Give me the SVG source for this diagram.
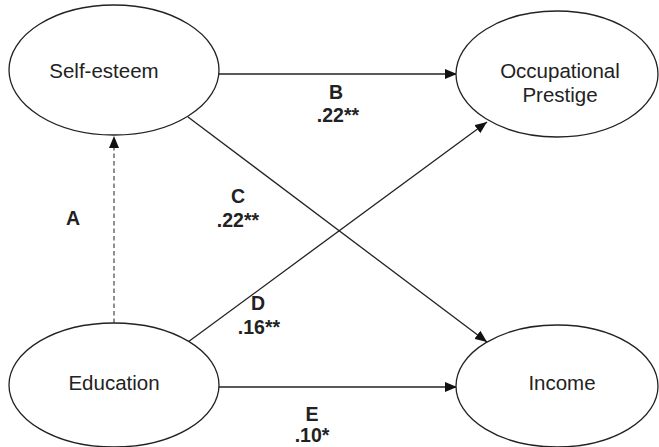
<svg xmlns="http://www.w3.org/2000/svg" width="659" height="447" viewBox="0 0 659 447">
<style>
.node ellipse{fill:#fff;stroke:#222;stroke-width:1.3}
.nt{font-family:"Liberation Sans",Arial,sans-serif;font-size:20.5px;fill:#222;text-anchor:middle}
.lbl{font-family:"Liberation Sans",Arial,sans-serif;font-size:19.5px;font-weight:bold;fill:#222;text-anchor:middle}
.edge{stroke:#222;stroke-width:1.3;fill:none}
.dash{stroke:#555;stroke-width:1.3;fill:none;stroke-dasharray:4.5,3}
</style>
<defs>
<marker id="ah" viewBox="0 0 12 10" refX="12" refY="5" markerWidth="12" markerHeight="10" markerUnits="userSpaceOnUse" orient="auto">
<path d="M0,0 L12,5 L0,10 Z" fill="#111"/>
</marker>
</defs>
<rect width="659" height="447" fill="#fff"/>
<g id="connectors">
<line class="dash" x1="114" y1="323" x2="114" y2="136" marker-end="url(#ah)"/>
<line class="edge" x1="219" y1="74" x2="457" y2="74" marker-end="url(#ah)"/>
<line class="edge" x1="188" y1="117" x2="487" y2="342" marker-end="url(#ah)"/>
<line class="edge" x1="188" y1="342" x2="487" y2="122" marker-end="url(#ah)"/>
<line class="edge" x1="219" y1="387" x2="457" y2="387" marker-end="url(#ah)"/>
</g>
<g id="self-esteem" class="node">
<ellipse cx="114" cy="70" rx="105" ry="65"/>
<text class="nt" x="104" y="78">Self-esteem</text>
</g>
<g id="occupational-prestige" class="node">
<ellipse cx="557" cy="74" rx="101" ry="63"/>
<text class="nt" x="560" y="78">Occupational</text>
<text class="nt" x="560" y="102">Prestige</text>
</g>
<g id="education" class="node">
<ellipse cx="114" cy="385" rx="105" ry="62"/>
<text class="nt" x="114" y="390">Education</text>
</g>
<g id="income" class="node">
<ellipse cx="557" cy="386" rx="101" ry="61"/>
<text class="nt" x="562" y="390">Income</text>
</g>
<g id="labels">
<text class="lbl" x="73" y="225">A</text>
<text class="lbl" x="336" y="99">B</text>
<text class="lbl" x="338" y="122">.22**</text>
<text class="lbl" x="238" y="203">C</text>
<text class="lbl" x="238" y="227">.22**</text>
<text class="lbl" x="258" y="310">D</text>
<text class="lbl" x="259" y="334">.16**</text>
<text class="lbl" x="312" y="421">E</text>
<text class="lbl" x="312" y="442">.10*</text>
</g>
</svg>
